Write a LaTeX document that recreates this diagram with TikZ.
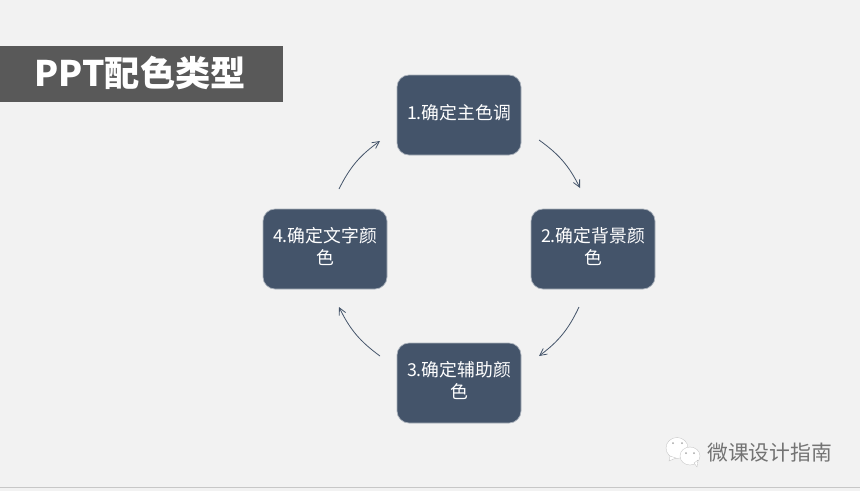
\documentclass[tikz,border=0pt]{standalone}
\usepackage{fontspec}
\setmainfont{Noto Sans CJK SC}
\definecolor{bgc}{HTML}{F2F2F2}
\definecolor{boxc}{HTML}{44546A}
\definecolor{barc}{HTML}{595959}
\usetikzlibrary{arrows.meta}
\newcommand{\boxlabel}[2][1.5pt]{\raisebox{#1}{\begin{tabular}{@{}c@{}}#2\end{tabular}}}
\tikzset{
 stepbox/.style={draw=boxc!45!white,line width=0.7pt,fill=boxc,rounded corners=12pt,minimum width=124pt,minimum height=80pt,align=center,text=white,font=\fontsize{17.8}{21}\selectfont,inner sep=0pt},
 flow/.style={draw=boxc,line width=0.8pt,-{Straight Barb[length=7pt,width=7pt]}},
 wechat/.style={fill=white,draw=black!25,line width=0.3pt}
}
\begin{document}
\begin{tikzpicture}[x=1pt,y=-1pt]
\useasboundingbox (0,0) rectangle (860,491);
\fill[bgc] (0,0) rectangle (860,491);
\fill[black!22] (0,487) rectangle (860,488);
\node[fill=barc,minimum width=283pt,minimum height=56pt,inner sep=0pt,anchor=north west] (bar) at (0,46) {};
\node[text=white,font=\fontsize{35.2}{35.2}\bfseries\selectfont,anchor=center,inner sep=0pt] (title) at (140,72.5) {PPT配色类型};
\node[stepbox] (a) at (459,115) {\boxlabel[2pt]{1.确定主色调}};
\node[stepbox] (b) at (593,249) {\boxlabel[1pt]{2.确定背景颜\\色}};
\node[stepbox] (c) at (459,383) {\boxlabel[2pt]{3.确定辅助颜\\色}};
\node[stepbox] (d) at (325,249) {\boxlabel[2pt]{4.确定文字颜\\色}};
\coordinate (a1) at (539,140); \coordinate (b0) at (580,188);
\coordinate (b1) at (579,307); \coordinate (c0) at (539,356);
\coordinate (c1) at (380,356); \coordinate (d0) at (339,307);
\coordinate (d1) at (339,189); \coordinate (a0) at (380,141);
\draw[flow] (a1) to[bend left=14] (b0);
\draw[flow] (b1) to[bend left=14] (c0);
\draw[flow] (c1) to[bend left=14] (d0);
\draw[flow] (d1) to[bend left=14] (a0);
% WeChat mark
\fill[wechat] (677,448) ellipse (11pt and 10.5pt);
\fill[wechat] (670,456) -- (669,461) -- (676,458) -- cycle;
\fill[black!35] (673,443) circle (1pt) (682,443) circle (1pt);
\fill[wechat] (690,456) ellipse (10pt and 9pt);
\fill[wechat] (694,463) -- (697,467) -- (698,460) -- cycle;
\fill[black!35] (686,453) circle (1pt) (694,453) circle (1pt);
\node[text=black!55,font=\fontsize{20.8}{22}\selectfont,anchor=west,inner sep=0pt] (mark) at (707,453) {微课设计指南};
\end{tikzpicture}
\end{document}
